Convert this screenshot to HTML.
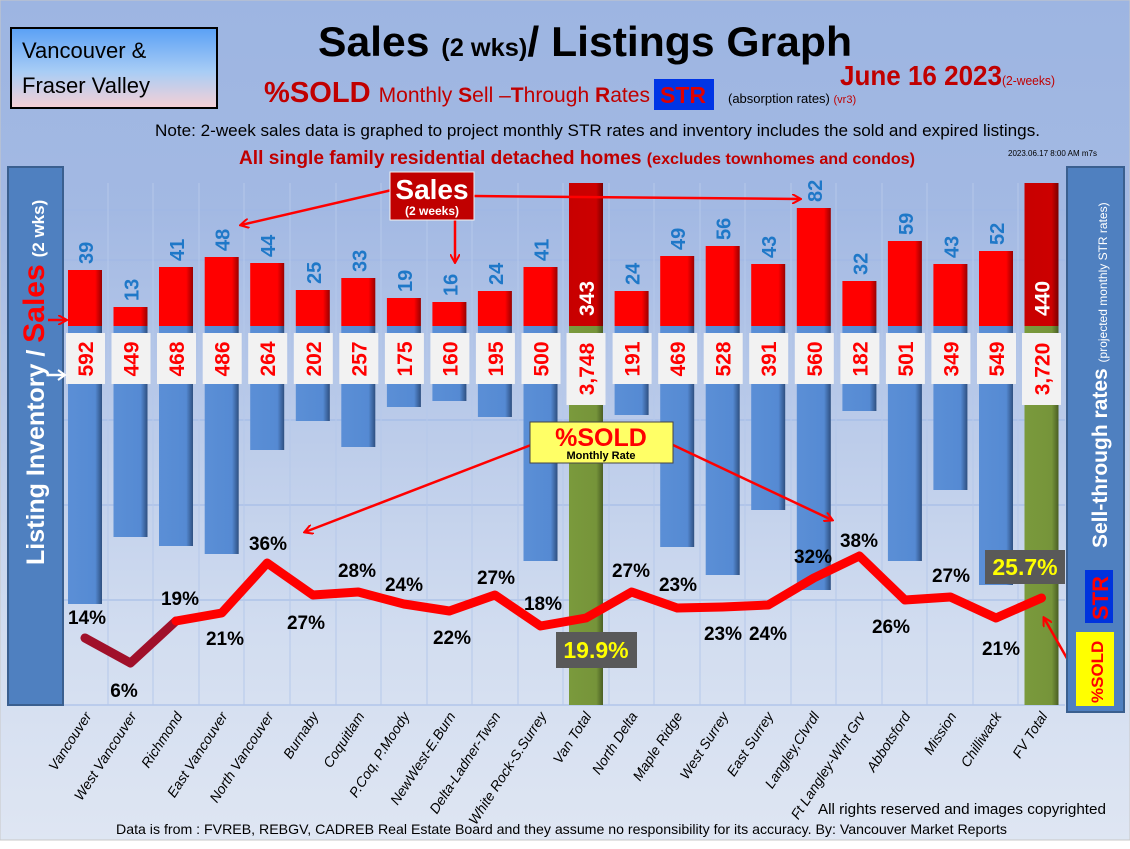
<!DOCTYPE html>
<html><head><meta charset="utf-8"><style>
body{margin:0;width:1130px;height:849px;overflow:hidden;background:#fff}
svg{display:block;font-family:"Liberation Sans",sans-serif}
</style></head><body>
<svg width="1130" height="849" viewBox="0 0 1130 849" xmlns="http://www.w3.org/2000/svg">
<defs>
<linearGradient id="bg" x1="0" y1="0" x2="0" y2="1">
<stop offset="0" stop-color="#9db5e2"/><stop offset="0.25" stop-color="#a3b9e3"/><stop offset="0.75" stop-color="#d2ddf0"/><stop offset="1" stop-color="#dfe6f3"/></linearGradient>
<linearGradient id="lbox" x1="0" y1="0" x2="0" y2="1">
<stop offset="0" stop-color="#5aa0f5"/><stop offset="0.55" stop-color="#a9cdf5"/><stop offset="1" stop-color="#f7d0d5"/></linearGradient>
<linearGradient id="rb" x1="0" y1="0" x2="1" y2="0"><stop offset="0" stop-color="#ff0000"/><stop offset="0.8" stop-color="#f00"/><stop offset="1" stop-color="#900"/></linearGradient>
<linearGradient id="bb" x1="0" y1="0" x2="1" y2="0"><stop offset="0" stop-color="#5b8fd6"/><stop offset="0.8" stop-color="#558ad3"/><stop offset="1" stop-color="#2e4f80"/></linearGradient>
<linearGradient id="gb" x1="0" y1="0" x2="1" y2="0"><stop offset="0" stop-color="#7a9a3c"/><stop offset="0.8" stop-color="#76943a"/><stop offset="1" stop-color="#4a5e24"/></linearGradient>
<linearGradient id="db" x1="0" y1="0" x2="1" y2="0"><stop offset="0" stop-color="#c80000"/><stop offset="0.8" stop-color="#c00"/><stop offset="1" stop-color="#7a0000"/></linearGradient>
<marker id="ar" markerWidth="10" markerHeight="10" refX="8" refY="5" orient="auto" markerUnits="userSpaceOnUse"><path d="M0,0 L9,5 L0,10" fill="none" stroke="#f00" stroke-width="2"/></marker>
</defs>
<rect width="1130" height="849" fill="url(#bg)"/>
<rect x="0" y="840" width="1130" height="9" fill="#fff"/>
<rect x="0" y="0" width="1130" height="840" fill="none" stroke="#c8c8c8"/>

<!-- header -->
<rect x="11" y="28" width="206" height="80" fill="url(#lbox)" stroke="#000" stroke-width="2"/>
<text x="22" y="58" font-size="22" fill="#000">Vancouver &amp;</text>
<text x="22" y="93" font-size="22" fill="#000">Fraser Valley</text>
<text x="318" y="56" font-size="42" font-weight="bold" fill="#000" textLength="534" lengthAdjust="spacingAndGlyphs">Sales <tspan font-size="25">(2 wks)</tspan>/ Listings Graph</text>
<text x="840" y="85" font-size="28" font-weight="bold" fill="#c00000" textLength="215" lengthAdjust="spacingAndGlyphs">June 16  2023<tspan font-size="13" font-weight="normal">(2-weeks)</tspan></text>
<text x="264" y="102" font-size="29" font-weight="bold" fill="#c00000" textLength="386" lengthAdjust="spacingAndGlyphs">%SOLD <tspan font-size="21" font-weight="normal">Monthly <tspan font-weight="bold">S</tspan>ell –<tspan font-weight="bold">T</tspan>hrough <tspan font-weight="bold">R</tspan>ates</tspan></text>
<rect x="654" y="79" width="60" height="31" fill="#0035e6"/>
<text x="660" y="103" font-size="23" font-weight="bold" fill="#e00000">STR</text>
<text x="728" y="103" font-size="13" fill="#000">(absorption rates) <tspan fill="#c00000" font-size="11">(vr3)</tspan></text>
<text x="155" y="136" font-size="17" fill="#000" textLength="885" lengthAdjust="spacingAndGlyphs">Note: 2-week sales data is graphed to project monthly STR rates and inventory includes the sold and expired listings.</text>
<text x="239" y="164" font-size="19" font-weight="bold" fill="#c00000" textLength="676" lengthAdjust="spacingAndGlyphs">All single family residential detached homes <tspan font-size="16">(excludes townhomes and condos)</tspan></text>
<text x="1008" y="156" font-size="8" fill="#000">2023.06.17 8:00 AM m7s</text>

<!-- grid -->
<g stroke="#9fb8e6" stroke-width="1">
<line x1="63" y1="210" x2="1065" y2="210"/><line x1="63" y1="260" x2="1065" y2="260"/>
<line x1="63" y1="420" x2="1065" y2="420"/><line x1="63" y1="505" x2="1065" y2="505"/><line x1="63" y1="600" x2="1065" y2="600"/>
<line x1="63" y1="705" x2="1065" y2="705"/>
</g>
<g stroke="#b5c8ea" stroke-width="1">
<line x1="108" y1="183" x2="108" y2="705"/><line x1="153" y1="183" x2="153" y2="705"/><line x1="199" y1="183" x2="199" y2="705"/><line x1="244" y1="183" x2="244" y2="705"/><line x1="290" y1="183" x2="290" y2="705"/><line x1="336" y1="183" x2="336" y2="705"/><line x1="381" y1="183" x2="381" y2="705"/><line x1="427" y1="183" x2="427" y2="705"/><line x1="472" y1="183" x2="472" y2="705"/><line x1="518" y1="183" x2="518" y2="705"/><line x1="563" y1="183" x2="563" y2="705"/><line x1="609" y1="183" x2="609" y2="705"/><line x1="654" y1="183" x2="654" y2="705"/><line x1="700" y1="183" x2="700" y2="705"/><line x1="745" y1="183" x2="745" y2="705"/><line x1="791" y1="183" x2="791" y2="705"/><line x1="836" y1="183" x2="836" y2="705"/><line x1="882" y1="183" x2="882" y2="705"/><line x1="927" y1="183" x2="927" y2="705"/><line x1="973" y1="183" x2="973" y2="705"/><line x1="1018" y1="183" x2="1018" y2="705"/>
</g>

<!-- red bars -->
<g fill="url(#rb)">
<rect x="68" y="270" width="34" height="56"/><rect x="113.5" y="307" width="34" height="19"/><rect x="159" y="267" width="34" height="59"/><rect x="204.7" y="257" width="34" height="69"/><rect x="250.2" y="263" width="34" height="63"/><rect x="295.8" y="290" width="34" height="36"/><rect x="341.3" y="278" width="34" height="48"/><rect x="386.9" y="298" width="34" height="28"/><rect x="432.4" y="302" width="34" height="24"/><rect x="477.9" y="291" width="34" height="35"/><rect x="523.5" y="267" width="34" height="59"/>
<rect x="614.6" y="291" width="34" height="35"/><rect x="660.2" y="256" width="34" height="70"/><rect x="705.7" y="246" width="34" height="80"/><rect x="751.2" y="264" width="34" height="62"/><rect x="796.8" y="208" width="34" height="118"/><rect x="842.4" y="281" width="34" height="45"/><rect x="887.9" y="241" width="34" height="85"/><rect x="933.4" y="264" width="34" height="62"/><rect x="979" y="251" width="34" height="75"/>
</g>
<rect x="569" y="183" width="34" height="143" fill="url(#db)"/>
<rect x="1024.5" y="183" width="34" height="143" fill="url(#db)"/>
<!-- blue bars -->
<g fill="url(#bb)">
<rect x="68" y="326" width="34" height="278"/><rect x="113.5" y="326" width="34" height="211"/><rect x="159" y="326" width="34" height="220"/><rect x="204.7" y="326" width="34" height="228"/><rect x="250.2" y="326" width="34" height="124"/><rect x="295.8" y="326" width="34" height="95"/><rect x="341.3" y="326" width="34" height="121"/><rect x="386.9" y="326" width="34" height="81"/><rect x="432.4" y="326" width="34" height="75"/><rect x="477.9" y="326" width="34" height="91"/><rect x="523.5" y="326" width="34" height="235"/>
<rect x="614.6" y="326" width="34" height="89"/><rect x="660.2" y="326" width="34" height="221"/><rect x="705.7" y="326" width="34" height="249"/><rect x="751.2" y="326" width="34" height="184"/><rect x="796.8" y="326" width="34" height="264"/><rect x="842.4" y="326" width="34" height="85"/><rect x="887.9" y="326" width="34" height="235"/><rect x="933.4" y="326" width="34" height="164"/><rect x="979" y="326" width="34" height="259"/>
</g>
<rect x="569" y="326" width="34" height="379" fill="url(#gb)"/>
<rect x="1024.5" y="326" width="34" height="379" fill="url(#gb)"/>

<!-- inventory label boxes -->
<g fill="#f2f2f2">
<rect x="66" y="333" width="39" height="51"/><rect x="111.5" y="333" width="39" height="51"/><rect x="157" y="333" width="39" height="51"/><rect x="202.7" y="333" width="39" height="51"/><rect x="248.2" y="333" width="39" height="51"/><rect x="293.8" y="333" width="39" height="51"/><rect x="339.3" y="333" width="39" height="51"/><rect x="384.9" y="333" width="39" height="51"/><rect x="430.4" y="333" width="39" height="51"/><rect x="475.9" y="333" width="39" height="51"/><rect x="521.5" y="333" width="39" height="51"/><rect x="566.5" y="333" width="39" height="72"/><rect x="612.6" y="333" width="39" height="51"/><rect x="658.2" y="333" width="39" height="51"/><rect x="703.7" y="333" width="39" height="51"/><rect x="749.2" y="333" width="39" height="51"/><rect x="794.8" y="333" width="39" height="51"/><rect x="840.4" y="333" width="39" height="51"/><rect x="885.9" y="333" width="39" height="51"/><rect x="931.4" y="333" width="39" height="51"/><rect x="977" y="333" width="39" height="51"/><rect x="1022" y="333" width="39" height="72"/>
</g>
<g font-size="21" font-weight="bold" fill="#f00" text-anchor="middle">
<text transform="translate(93,359) rotate(-90)">592</text><text transform="translate(138.5,359) rotate(-90)">449</text><text transform="translate(184,359) rotate(-90)">468</text><text transform="translate(229.7,359) rotate(-90)">486</text><text transform="translate(275.2,359) rotate(-90)">264</text><text transform="translate(320.8,359) rotate(-90)">202</text><text transform="translate(366.3,359) rotate(-90)">257</text><text transform="translate(411.9,359) rotate(-90)">175</text><text transform="translate(457.4,359) rotate(-90)">160</text><text transform="translate(502.9,359) rotate(-90)">195</text><text transform="translate(548.5,359) rotate(-90)">500</text><text transform="translate(594,369) rotate(-90)">3,748</text><text transform="translate(639.6,359) rotate(-90)">191</text><text transform="translate(685.2,359) rotate(-90)">469</text><text transform="translate(730.7,359) rotate(-90)">528</text><text transform="translate(776.2,359) rotate(-90)">391</text><text transform="translate(821.8,359) rotate(-90)">560</text><text transform="translate(867.4,359) rotate(-90)">182</text><text transform="translate(912.9,359) rotate(-90)">501</text><text transform="translate(958.4,359) rotate(-90)">349</text><text transform="translate(1004,359) rotate(-90)">549</text><text transform="translate(1049.5,369) rotate(-90)">3,720</text>
</g>
<!-- sales labels -->
<g font-size="20" font-weight="bold" fill="#1f78c8">
<text transform="translate(93,264) rotate(-90)">39</text><text transform="translate(138.5,301) rotate(-90)">13</text><text transform="translate(184,261) rotate(-90)">41</text><text transform="translate(229.7,251) rotate(-90)">48</text><text transform="translate(275.2,257) rotate(-90)">44</text><text transform="translate(320.8,284) rotate(-90)">25</text><text transform="translate(366.3,272) rotate(-90)">33</text><text transform="translate(411.9,292) rotate(-90)">19</text><text transform="translate(457.4,296) rotate(-90)">16</text><text transform="translate(502.9,285) rotate(-90)">24</text><text transform="translate(548.5,261) rotate(-90)">41</text><text transform="translate(639.6,285) rotate(-90)">24</text><text transform="translate(685.2,250) rotate(-90)">49</text><text transform="translate(730.7,240) rotate(-90)">56</text><text transform="translate(776.2,258) rotate(-90)">43</text><text transform="translate(821.8,202) rotate(-90)">82</text><text transform="translate(867.4,275) rotate(-90)">32</text><text transform="translate(912.9,235) rotate(-90)">59</text><text transform="translate(958.4,258) rotate(-90)">43</text><text transform="translate(1004,245) rotate(-90)">52</text>
</g>
<g font-size="21" font-weight="bold" fill="#fff">
<text transform="translate(594,316) rotate(-90)">343</text><text transform="translate(1049.5,316) rotate(-90)">440</text>
</g>

<!-- STR line -->
<polyline points="85,638 130.5,663 176,621" fill="none" stroke="#a0102a" stroke-width="9" stroke-linejoin="round" stroke-linecap="round"/>
<polyline points="176,621 221.7,613 267.2,563 312.8,595 358.3,592 403.9,604 449.4,611 494.9,595 540.5,626 586,618 631.6,592 677.2,608 722.7,607 768.2,605 813.8,578 859.4,556 904.9,600 950.4,597 996,618 1041.5,598" fill="none" stroke="#f00" stroke-width="9" stroke-linejoin="round" stroke-linecap="round"/>
<g font-size="19" font-weight="bold" fill="#000" text-anchor="middle">
<text x="87" y="624">14%</text><text x="124" y="697">6%</text><text x="180" y="605">19%</text><text x="225" y="645">21%</text><text x="268" y="550">36%</text><text x="306" y="629">27%</text><text x="357" y="577">28%</text><text x="404" y="591">24%</text><text x="452" y="644">22%</text><text x="496" y="584">27%</text><text x="543" y="610">18%</text><text x="631" y="577">27%</text><text x="678" y="591">23%</text><text x="723" y="640">23%</text><text x="768" y="640">24%</text><text x="813" y="563">32%</text><text x="859" y="547">38%</text><text x="891" y="633">26%</text><text x="951" y="582">27%</text><text x="1001" y="655">21%</text>
</g>
<rect x="556" y="632" width="81" height="36" fill="#595959"/>
<text x="596" y="658" font-size="23" font-weight="bold" fill="#ffff00" text-anchor="middle">19.9%</text>
<rect x="985" y="550" width="80" height="34" fill="#595959"/>
<text x="1025" y="575" font-size="23" font-weight="bold" fill="#ffff00" text-anchor="middle">25.7%</text>

<!-- annotations -->
<g stroke="#f00" stroke-width="2.5" fill="none" marker-end="url(#ar)">
<line x1="392" y1="190" x2="241" y2="225"/><line x1="455" y1="220" x2="455" y2="262"/><line x1="474" y1="196" x2="800" y2="199"/>
<line x1="531" y1="445" x2="305" y2="532"/><line x1="673" y1="445" x2="832" y2="520"/>
<line x1="1085" y1="690" x2="1044" y2="618"/>
</g>
<rect x="390" y="172" width="84" height="48" fill="#c00000" stroke="#f2f2f2" stroke-width="1"/>
<text x="432" y="199" font-size="28" font-weight="bold" fill="#fff" text-anchor="middle">Sales</text>
<text x="432" y="215" font-size="12" font-weight="bold" fill="#fff" text-anchor="middle">(2 weeks)</text>
<rect x="530" y="422" width="143" height="41" fill="#ffff66" stroke="#444" stroke-width="1"/>
<text x="601" y="446" font-size="25" font-weight="bold" fill="#f00" text-anchor="middle">%SOLD</text>
<text x="601" y="459" font-size="11" font-weight="bold" fill="#000" text-anchor="middle">Monthly Rate</text>

<!-- side panels -->
<rect x="8" y="167" width="55" height="538" fill="#4f80c0" stroke="#3a5f8f" stroke-width="2"/>
<text transform="translate(44,565) rotate(-90)" font-size="25" font-weight="bold" fill="#fff">Listing Inventory / <tspan fill="#f00" font-size="30">Sales</tspan> <tspan font-size="17">(2  wks)</tspan></text>
<line x1="48" y1="320" x2="66" y2="320" stroke="#f00" stroke-width="2.5" marker-end="url(#ar)"/>
<line x1="48" y1="375" x2="64" y2="375" stroke="#fff" stroke-width="2.5"/><path d="M58,370 L65,375 L58,380" fill="none" stroke="#fff" stroke-width="2"/>
<rect x="1067" y="167" width="57" height="545" fill="#4f80c0" stroke="#3a5f8f" stroke-width="2"/>
<text transform="translate(1107,548) rotate(-90)" font-size="21" font-weight="bold" fill="#fff">Sell-through rates <tspan font-size="12" font-weight="normal">  (projected monthly STR rates)</tspan></text>
<rect x="1085" y="570" width="28" height="53" fill="#0033dd"/>
<text transform="translate(1108,620) rotate(-90)" font-size="22" font-weight="bold" fill="#f00">STR</text>
<rect x="1076" y="632" width="38" height="74" fill="#ffff00"/>
<text transform="translate(1103,703) rotate(-90)" font-size="17" font-weight="bold" fill="#f00">%SOLD</text>

<!-- x labels -->
<g font-size="14" font-style="italic" fill="#000" text-anchor="end">
<text transform="translate(92,716) rotate(-57)">Vancouver</text><text transform="translate(137,716) rotate(-57)">West Vancouver</text><text transform="translate(183,716) rotate(-57)">Richmond</text><text transform="translate(228,716) rotate(-57)">East Vancouver</text><text transform="translate(274,716) rotate(-57)">North Vancouver</text><text transform="translate(319,716) rotate(-57)">Burnaby</text><text transform="translate(365,716) rotate(-57)">Coquitlam</text><text transform="translate(410,716) rotate(-57)">P.Coq, P.Moody</text><text transform="translate(456,716) rotate(-57)">NewWest-E.Burn</text><text transform="translate(501,716) rotate(-57)">Delta-Ladner-Twsn</text><text transform="translate(547,716) rotate(-57)">White Rock-S.Surrey</text><text transform="translate(592,716) rotate(-57)">Van Total</text><text transform="translate(638,716) rotate(-57)">North Delta</text><text transform="translate(683,716) rotate(-57)">Maple Ridge</text><text transform="translate(729,716) rotate(-57)">West Surrey</text><text transform="translate(774,716) rotate(-57)">East Surrey</text><text transform="translate(820,716) rotate(-57)">Langley,Clvrdl</text><text transform="translate(866,716) rotate(-57)">Ft Langley-Wlnt Grv</text><text transform="translate(911,716) rotate(-57)">Abbotsford</text><text transform="translate(957,716) rotate(-57)">Mission</text><text transform="translate(1002,716) rotate(-57)">Chilliwack</text><text transform="translate(1048,716) rotate(-57)">FV Total</text>
</g>
<text x="818" y="814" font-size="15" fill="#000" textLength="288" lengthAdjust="spacingAndGlyphs">All rights reserved and  images copyrighted</text>
<text x="116" y="834" font-size="14" fill="#000" textLength="891" lengthAdjust="spacingAndGlyphs">Data is from : FVREB, REBGV, CADREB Real Estate Board and they assume no responsibility for its accuracy. By: Vancouver Market Reports</text>
</svg>
</body></html>
